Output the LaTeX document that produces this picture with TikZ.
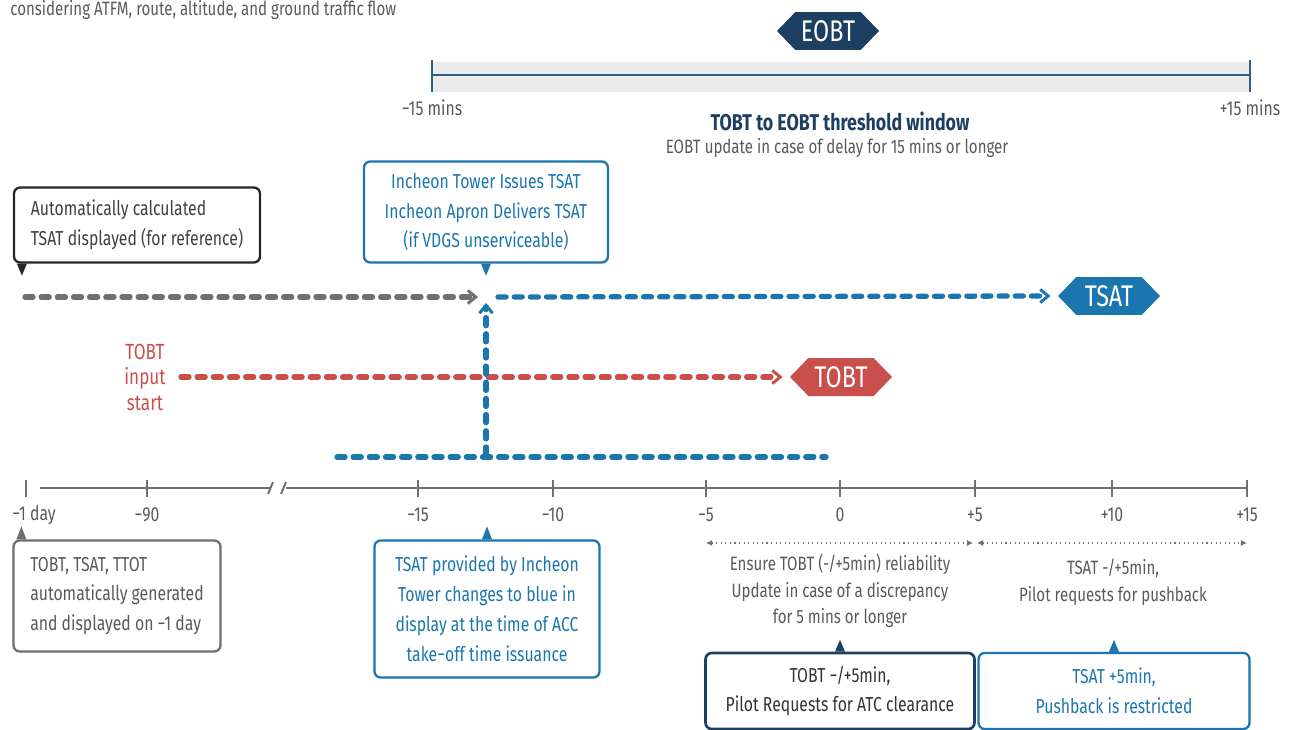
\documentclass[tikz,border=0pt]{standalone}
\usepackage{fontspec}
\setmainfont{Fira Sans}[FakeStretch=0.78]
\usepackage{xcolor}
\usepackage{tikz}
\usetikzlibrary{shapes.symbols, arrows.meta, positioning, calc}
\definecolor{acdmnavy}{HTML}{1C3F62}
\definecolor{acdmblue}{HTML}{1B76AE}
\definecolor{acdmred}{HTML}{C94F4C}
\definecolor{acdmgray}{HTML}{707070}
\definecolor{acdmtext}{HTML}{5A5A5A}
\definecolor{acdmband}{HTML}{EBEBEB}
\definecolor{acdmline}{HTML}{2F5F80}

\begin{document}
\begin{tikzpicture}[x=0.02cm, y=-0.02cm,
    hexlabel/.style={signal, signal to=east and west, signal pointer angle=92,
        minimum width=2.04cm, minimum height=0.76cm, inner sep=0pt,
        text=white, font=\fontsize{17}{17}\selectfont},
    callout/.style={draw, rounded corners=3.5pt, line width=1.3pt, align=center,
        inner sep=0pt, font=\fontsize{11.5}{17}\selectfont},
    flow/.style={line width=3pt, line cap=round, dash pattern=on 4.6pt off 4.6pt,
        -{Straight Barb[length=4.5pt, width=7.5pt, line width=1.7pt]}},
    axisline/.style={acdmgray, line width=1.1pt},
    axistick/.style={acdmgray, line width=1.3pt},
    axislabel/.style={text=acdmtext, inner sep=0pt, font=\fontsize{11.5}{14}\selectfont},
    note/.style={text=acdmtext, align=center, inner sep=0pt, font=\fontsize{11}{15.3}\selectfont},
    span/.style={acdmgray, line width=0.6pt, dotted,
        {Latex[length=3.5pt, width=3.5pt]}-{Latex[length=3.5pt, width=3.5pt]}}]
    \useasboundingbox (0,0) rectangle (1292,730);

    % caption at the top edge
    \node[note, anchor=base west] (flowcap) at (10,15) {considering ATFM, route, altitude, and ground traffic flow};

    % EOBT threshold window
    \coordinate (winl) at (432,75);
    \coordinate (winr) at (1250,75);
    \fill[acdmband] (432,62) rectangle (1250,92);
    \draw[acdmline, line width=1.2pt] (winl) -- (winr);
    \draw[acdmline, line width=1.2pt] ([yshift=0.3cm]winl) -- ([yshift=-0.34cm]winl);
    \draw[acdmline, line width=1.2pt] ([yshift=0.3cm]winr) -- ([yshift=-0.34cm]winr);
    \node[hexlabel, fill=acdmnavy] (eobt) at (828,31) {EOBT};
    \node[axislabel] (winlab) at (432,108) {−15 mins};
    \node[axislabel] (winrab) at (1250,108) {+15 mins};
    \node[text=acdmnavy, font=\bfseries\fontsize{13}{15}\selectfont] (wintitle) at (840,121) {TOBT to EOBT threshold window};
    \node[note] (winnote) at (837,148) {EOBT update in case of delay for 15 mins or longer};

    % upper callouts
    \node[callout, draw=black!85, text=black!75, align=left, minimum width=4.92cm, minimum height=1.5cm] (autobox) at (137,225) {Automatically calculated\\TSAT displayed (for reference)};
    \fill[black!85] (autobox.south west) ++(4,0) -- ++(10,0) -- ++(-5,12) -- cycle;
    \node[callout, draw=acdmblue, text=acdmblue, minimum width=4.88cm, minimum height=2.02cm] (towerbox) at (486,212) {Incheon Tower Issues TSAT\\Incheon Apron Delivers TSAT\\(if VDGS unserviceable)};
    \fill[acdmblue] (towerbox.south) ++(-5,0) -- ++(10,0) -- ++(-5,12) -- cycle;

    % TSAT flows
    \coordinate (autostart) at (25,297);
    \coordinate (autoend) at (478,297);
    \coordinate (tsatstart) at (498,297);
    \node[hexlabel, fill=acdmblue] (tsat) at (1109,296) {TSAT};
    \draw[flow, acdmgray] (autostart) -- (autoend);
    \draw[flow, acdmblue] (tsatstart) -- ([xshift=-0.14cm]tsat.west);

    % TOBT flow
    \node[text=acdmred, align=center, inner sep=0pt, font=\fontsize{12.5}{14.5}\selectfont] (tobtin) at (145,377) {TOBT\\input\\start};
    \node[hexlabel, fill=acdmred] (tobt) at (841,377) {TOBT};
    \draw[flow, acdmred] ([xshift=0.3cm]tobtin.east) -- ([xshift=-0.14cm]tobt.west);

    % ACC take-off time issuance
    \coordinate (accl) at (337,457);
    \coordinate (accr) at (826,457);
    \coordinate (issuebase) at (486,455);
    \coordinate (issuetop) at (486,303);
    \draw[flow, acdmblue, -] (accl) -- (accr);
    \draw[flow, acdmblue] (issuebase) -- (issuetop);

    % time axis
    \draw[axisline] (40,488) -- (271,488);
    \draw[axisline] (268,494) -- (273,482);
    \draw[axisline] (281,494) -- (286,482);
    \draw[axisline] (286,488) -- (1247,488);
    \draw[axistick] (26,480) -- (26,497);
    \node[axislabel] (tday) at (34,515) {−1 day};
    \foreach \x/\lab in {147/−90, 418/−15, 553/−10, 706/−5, 840/0, 975/+5, 1112/+10, 1247/+15} {
        \draw[axistick] (\x,480) -- (\x,497);
        \node[axislabel] (t\x) at (\x,515) {\lab};
    }

    % reliability spans
    \coordinate (spana) at (706,543);
    \coordinate (spanb) at (973,543);
    \coordinate (spanc) at (977,543);
    \coordinate (spand) at (1247,543);
    \draw[span] (spana) -- (spanb);
    \draw[span] (spanc) -- (spand);
    \node[note] (reliab) at (840,591) {Ensure TOBT (-/+5min) reliability\\Update in case of a discrepancy\\for 5 mins or longer};
    \node[note] (pushreq) at (1113,582) {TSAT -/+5min,\\Pilot requests for pushback};

    % lower callouts
    \node[callout, draw=acdmgray, text=acdmtext, align=left, minimum width=4.14cm, minimum height=2.22cm] (genbox) at (117,596) {TOBT, TSAT, TTOT\\automatically generated\\and displayed on −1 day};
    \fill[acdmgray] (genbox.north west) ++(4,0) -- ++(10,0) -- ++(-5,-13) -- cycle;
    \node[callout, draw=acdmblue, text=acdmblue, minimum width=4.5cm, minimum height=2.74cm] (acctime) at (487,609) {TSAT provided by Incheon\\Tower changes to blue in\\display at the time of ACC\\take−off time issuance};
    \fill[acdmblue] (acctime.north) ++(-5,0) -- ++(10,0) -- ++(-5,-13) -- cycle;
    \node[callout, draw=acdmnavy, text=black!80, line width=1.5pt, minimum width=5.38cm, minimum height=1.52cm] (atcbox) at (840,691) {TOBT −/+5min,\\Pilot Requests for ATC clearance};
    \fill[acdmnavy] (atcbox.north) ++(-5,0) -- ++(10,0) -- ++(-5,-12) -- cycle;
    \node[callout, draw=acdmblue, text=acdmblue, minimum width=5.42cm, minimum height=1.52cm] (pushbox) at (1114,691) {TSAT +5min,\\Pushback is restricted};
    \fill[acdmblue] (pushbox.north) ++(-5,0) -- ++(10,0) -- ++(-5,-12) -- cycle;
\end{tikzpicture}
\end{document}
